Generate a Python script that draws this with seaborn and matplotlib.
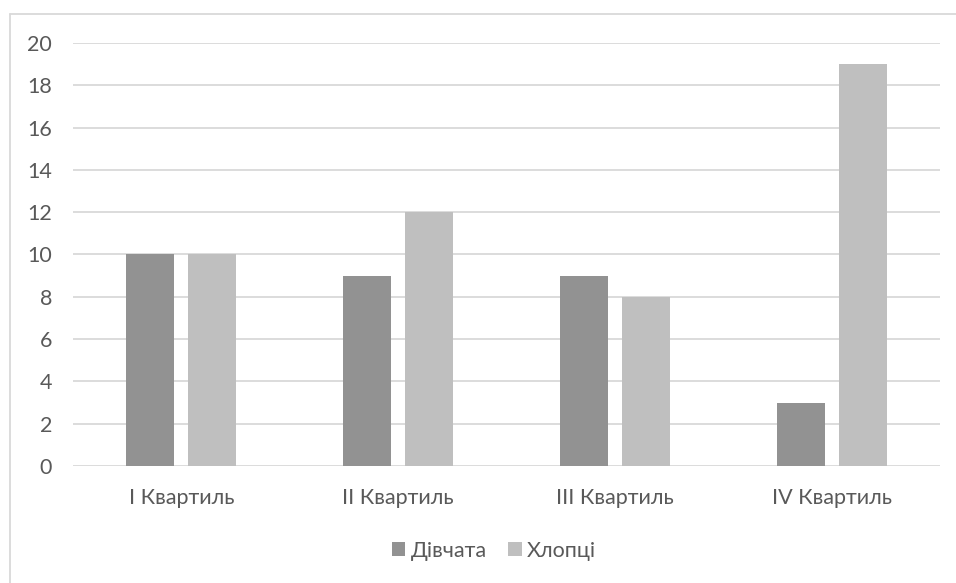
import matplotlib
matplotlib.use("Agg")
import matplotlib.pyplot as plt
from matplotlib.lines import Line2D
from matplotlib.patches import Patch
import seaborn as sns
import pandas as pd

# Data
quartiles = ["I Квартиль", "II Квартиль", "III Квартиль", "IV Квартиль"]
girls = [10, 9, 9, 3]
boys = [10, 12, 8, 19]
series_names = ["Дівчата", "Хлопці"]
y_ticks = list(range(0, 21, 2))

colors = ["#929292", "#bfbfbf"]
text_color = "#595959"
grid_color = "#d9d9d9"

df = pd.DataFrame({
    "quartile": quartiles * 2,
    "value": girls + boys,
    "group": [series_names[0]] * len(quartiles) + [series_names[1]] * len(quartiles),
})

sns.set_theme(style="white")
plt.rcParams["font.family"] = ["Lato", "DejaVu Sans"]

W, H = 956, 583
fig = plt.figure(figsize=(W / 100, H / 100), dpi=100)
ax = fig.add_axes([73 / W, 1 - 466 / H, (940 - 73) / W, (466 - 43) / H])

sns.barplot(
    data=df, x="quartile", y="value", hue="group",
    order=quartiles, hue_order=series_names, palette=colors,
    width=0.572, gap=0.226, saturation=1, ax=ax, legend=False,
    linewidth=0,
)

ax.set_ylim(0, 20)
ax.set_xlim(-0.5, len(quartiles) - 0.5)
ax.set_yticks(y_ticks)
ax.set_yticklabels([str(t) for t in y_ticks])
ax.set_xlabel("")
ax.set_ylabel("")
ax.set_axisbelow(True)
ax.yaxis.grid(True, color=grid_color, linewidth=1.3)
ax.xaxis.grid(False)
for s in ax.spines.values():
    s.set_visible(False)
ax.tick_params(axis="y", length=0, pad=15, labelsize=15.5, labelcolor=text_color)
ax.tick_params(axis="x", length=0, pad=16, labelsize=15.5, labelcolor=text_color)

# Legend below the plot
handles = [Patch(facecolor=c, edgecolor="none") for c in colors]
fig.legend(
    handles, series_names, loc="center", bbox_to_anchor=(494 / W, 1 - 551 / H),
    ncol=2, frameon=False, fontsize=15.5, labelcolor=text_color,
    handlelength=0.62, handleheight=0.62, handletextpad=0.25, columnspacing=1.0,
)

# Chart-area frame (top and left edges)
fig.add_artist(Line2D([9.5 / W, 1.0], [1 - 13.5 / H, 1 - 13.5 / H],
                      transform=fig.transFigure, color=grid_color, linewidth=1.3))
fig.add_artist(Line2D([9.5 / W, 9.5 / W], [0, 1 - 13.5 / H],
                      transform=fig.transFigure, color=grid_color, linewidth=1.3))

fig.savefig("out.png", dpi=100, facecolor="white")
